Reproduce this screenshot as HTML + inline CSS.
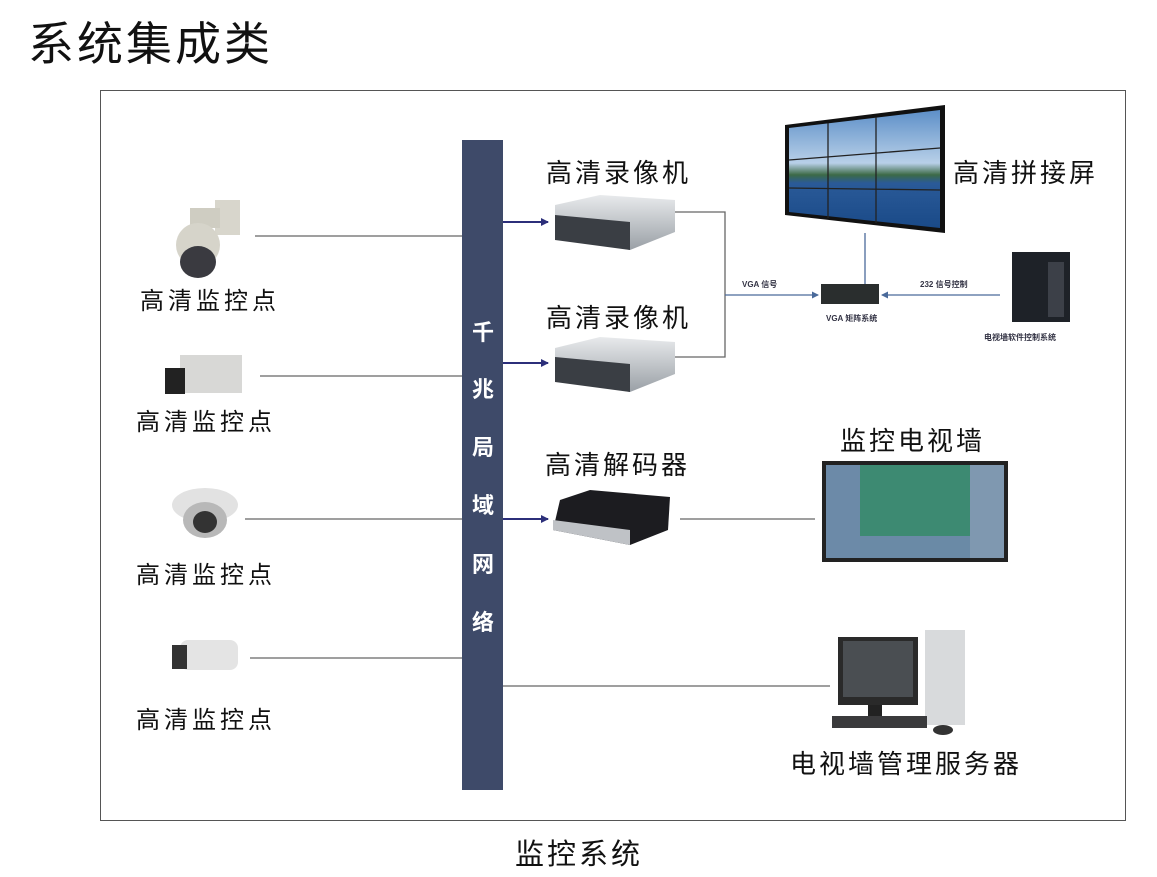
<!DOCTYPE html>
<html><head><meta charset="utf-8"><style>
body{margin:0;background:#fff;}
svg text{font-family:"Liberation Sans","Noto Sans CJK SC",sans-serif;}
</style></head><body>
<svg width="1157" height="872" viewBox="0 0 1157 872" xmlns="http://www.w3.org/2000/svg">
<defs>
<marker id="a" markerWidth="8" markerHeight="8" refX="7" refY="4" orient="auto" markerUnits="userSpaceOnUse"><path d="M0,0 L8,4 L0,8 z" fill="#2c2f7a"/></marker>
<marker id="b" markerWidth="7" markerHeight="7" refX="6" refY="3.5" orient="auto" markerUnits="userSpaceOnUse"><path d="M0,0 L7,3.5 L0,7 z" fill="#4a6a9a"/></marker>
<linearGradient id="sky" x1="0" y1="0" x2="0" y2="1"><stop offset="0" stop-color="#5d8fc8"/><stop offset="0.45" stop-color="#b8d0e8"/><stop offset="0.55" stop-color="#3c6a46"/><stop offset="0.62" stop-color="#2a5a98"/><stop offset="1" stop-color="#1a4a88"/></linearGradient>
<linearGradient id="srv" x1="0" y1="0" x2="0" y2="1"><stop offset="0" stop-color="#e8eaec"/><stop offset="1" stop-color="#9aa0a6"/></linearGradient>
</defs>
<text x="28" y="60" font-size="46" letter-spacing="3" fill="#111">系统集成类</text>
<rect x="100.5" y="90.5" width="1025" height="730" fill="none" stroke="#555" stroke-width="1"/>
<text x="515" y="864" font-size="29" letter-spacing="3" fill="#111">监控系统</text>

<rect x="462" y="140" width="41" height="650" fill="#3e4a69"/>
<g font-size="22" fill="#fff" font-weight="bold" text-anchor="middle">
<text x="483" y="340">千</text><text x="483" y="397">兆</text><text x="483" y="455">局</text><text x="483" y="513">域</text><text x="483" y="572">网</text><text x="483" y="630">络</text>
</g>

<g stroke="#666" stroke-width="1.3">
<line x1="255" y1="236" x2="462" y2="236"/>
<line x1="260" y1="376" x2="462" y2="376"/>
<line x1="245" y1="519" x2="462" y2="519"/>
<line x1="250" y1="658" x2="462" y2="658"/>
<line x1="503" y1="686" x2="830" y2="686"/>
<line x1="680" y1="519" x2="815" y2="519"/>
<polyline points="675,212 725,212 725,357 675,357" fill="none"/>
</g>
<g stroke="#2c2f7a" stroke-width="2">
<line x1="503" y1="222" x2="548" y2="222" marker-end="url(#a)"/>
<line x1="503" y1="363" x2="548" y2="363" marker-end="url(#a)"/>
<line x1="503" y1="519" x2="548" y2="519" marker-end="url(#a)"/>
</g>
<g stroke="#4a6a9a" stroke-width="1.3">
<line x1="725" y1="295" x2="818" y2="295" marker-end="url(#b)"/>
<line x1="1000" y1="295" x2="882" y2="295" marker-end="url(#b)"/>
<line x1="865" y1="233" x2="865" y2="285"/>
</g>

<g>
<rect x="215" y="200" width="25" height="35" fill="#d8d6cc"/>
<rect x="190" y="208" width="30" height="20" fill="#cfcdc2"/>
<ellipse cx="198" cy="245" rx="22" ry="22" fill="#d6d4ca"/>
<ellipse cx="198" cy="262" rx="18" ry="16" fill="#3a3a40"/>
<text x="140" y="309" font-size="24" letter-spacing="4" fill="#111">高清监控点</text>

<rect x="180" y="355" width="62" height="38" fill="#d8d8d6"/>
<rect x="165" y="368" width="20" height="26" fill="#222"/>
<text x="136" y="430" font-size="24" letter-spacing="4" fill="#111">高清监控点</text>

<ellipse cx="205" cy="505" rx="33" ry="17" fill="#e2e2e2"/>
<ellipse cx="205" cy="520" rx="22" ry="18" fill="#b8b8b8"/>
<ellipse cx="205" cy="522" rx="12" ry="11" fill="#333"/>
<text x="136" y="583" font-size="24" letter-spacing="4" fill="#111">高清监控点</text>

<rect x="180" y="640" width="58" height="30" rx="8" fill="#e4e4e4"/>
<rect x="172" y="645" width="15" height="24" fill="#333"/>
<text x="136" y="728" font-size="24" letter-spacing="4" fill="#111">高清监控点</text>
</g>

<g font-size="26" fill="#111" letter-spacing="3">
<text x="546" y="182">高清录像机</text>
<text x="546" y="327">高清录像机</text>
<text x="545" y="474">高清解码器</text>
<text x="953" y="182">高清拼接屏</text>
<text x="840" y="450">监控电视墙</text>
<text x="790" y="773">电视墙管理服务器</text>
</g>
<polygon points="555,205 600,195 675,200 675,232 630,250 555,235" fill="url(#srv)"/>
<polygon points="555,215 630,222 630,250 555,240" fill="#3a3e44"/>
<polygon points="555,348 600,337 675,342 675,374 630,392 555,378" fill="url(#srv)"/>
<polygon points="555,357 630,364 630,392 555,382" fill="#3a3e44"/>
<polygon points="560,500 590,490 670,497 668,530 630,545 553,530" fill="#1c1c20"/>
<polygon points="553,520 630,530 630,545 553,530" fill="#bfc2c6"/>

<polygon points="785,125 945,105 945,233 785,215" fill="#111"/>
<polygon points="789,128 940,110 940,228 789,212" fill="url(#sky)"/>
<g stroke="#222" stroke-width="1.3"><line x1="828" y1="123" x2="828" y2="218"/><line x1="876" y1="117" x2="876" y2="223"/><line x1="789" y1="160" x2="940" y2="148"/><line x1="789" y1="188" x2="940" y2="190"/></g>
<rect x="821" y="284" width="58" height="20" fill="#2a2e2e"/>
<g font-size="8" fill="#334" font-weight="bold"><text x="742" y="287">VGA 信号</text><text x="920" y="287">232 信号控制</text><text x="826" y="321">VGA 矩阵系统</text><text x="984" y="340">电视墙软件控制系统</text></g>
<rect x="1012" y="252" width="58" height="70" fill="#1e2228"/>
<rect x="1048" y="262" width="16" height="55" fill="#3c4048"/>

<rect x="822" y="461" width="186" height="101" fill="#222"/>
<rect x="826" y="465" width="178" height="93" fill="#3d8a72"/>
<rect x="826" y="465" width="34" height="93" fill="#6c8aa8"/>
<rect x="970" y="465" width="34" height="93" fill="#7f98b0"/>
<rect x="860" y="536" width="110" height="22" fill="#6a8aa6"/>

<rect x="838" y="637" width="80" height="68" fill="#2a2a2a"/>
<rect x="843" y="641" width="70" height="56" fill="#4a4e52"/>
<rect x="868" y="705" width="14" height="14" fill="#222"/>
<rect x="925" y="630" width="40" height="95" fill="#d8dadc"/>
<rect x="832" y="716" width="95" height="12" fill="#3a3a3c"/>
<ellipse cx="943" cy="730" rx="10" ry="5" fill="#333"/>
</svg>
</body></html>
